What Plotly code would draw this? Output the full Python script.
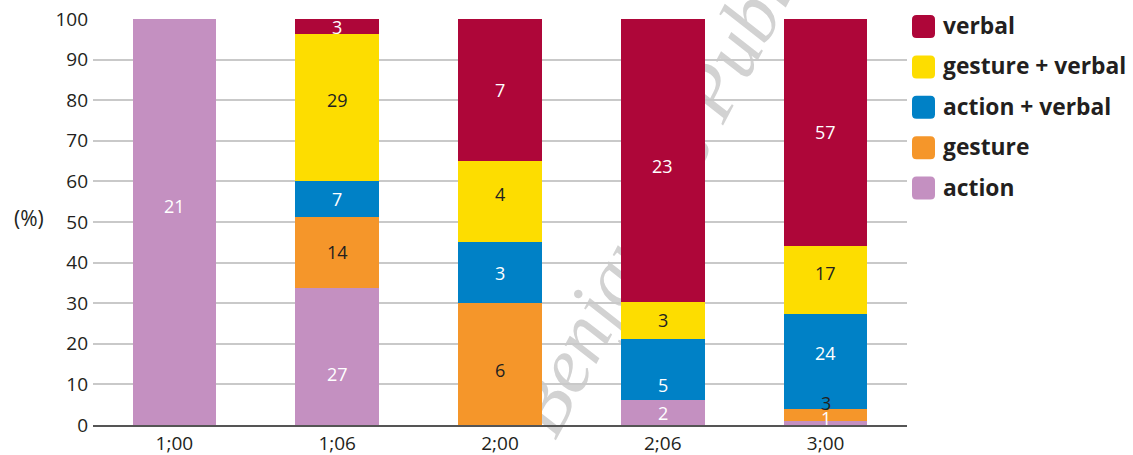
import plotly.graph_objects as go

# Age groups and number of utterances per communicative type
ages = ["1;00", "1;06", "2;00", "2;06", "3;00"]
action = [21, 27, 0, 2, 1]
gesture = [0, 14, 6, 0, 3]
action_verbal = [0, 7, 3, 5, 24]
gesture_verbal = [0, 29, 4, 3, 17]
verbal = [0, 3, 7, 23, 57]

y_ticks = [0, 10, 20, 30, 40, 50, 60, 70, 80, 90, 100]

# stacking order (bottom to top)
series = [
    ("action", action, "#c490c1", "white"),
    ("gesture", gesture, "#f5962a", "#231f20"),
    ("action + verbal", action_verbal, "#0081c6", "white"),
    ("gesture + verbal", gesture_verbal, "#fddd00", "#231f20"),
    ("verbal", verbal, "#ae0639", "white"),
]

# small vertical nudges (px) for a few segment labels
label_nudge = {
    ("action", "1;00"): 16, ("action", "1;06"): -18,
    ("gesture + verbal", "1;06"): 8,
    ("gesture", "2;00"): -6, ("gesture + verbal", "2;00"): 8,
    ("verbal", "2;06"): -6, ("action + verbal", "2;06"): -15,
    ("gesture + verbal", "3;00"): 7, ("action + verbal", "3;00"): 8,
    ("gesture", "3;00"): 12, ("action", "3;00"): 5,
}

FONT = "Open Sans"
DARK = "#231f20"

# plot-area geometry (px)
W_FIG, H_FIG = 1133, 455
L, R, T, B = 93, 907, 19, 425
PW, PH = R - L, B - T


def px(xp):
    return (xp - L) / PW


def py(yp):
    return (B - yp) / PH


fig = go.Figure()
for name, vals, color, _ in series:
    fig.add_bar(x=ages, y=vals, name=name, marker_color=color,
                marker_line_width=0, showlegend=False)

annotations = []
shapes = []

# value labels inside each segment
for i, age in enumerate(ages):
    total = sum(s[1][i] for s in series)
    cum = 0
    for name, vals, color, tcolor in series:
        v = vals[i]
        if v > 0:
            center = (cum + v / 2) / total * 100
            annotations.append(dict(
                x=age, y=center, xref="x", yref="y", text=str(v),
                showarrow=False, yshift=label_nudge.get((name, age), 0),
                font=dict(family=FONT, size=18, color=tcolor)))
        cum += v

# y-axis caption
annotations.append(dict(x=px(29), y=py(218), xref="paper", yref="paper",
                        xanchor="center", yanchor="middle",
                        text="(%)", showarrow=False,
                        font=dict(family=FONT, size=21, color=DARK)))

# legend: rounded swatches + bold labels, top entry first
def rounded_square(cx, cy, size, r):
    x0, x1 = cx - size / 2, cx + size / 2
    y0, y1 = cy - size / 2, cy + size / 2
    pts = [
        f"M {px(x0 + r)} {py(y0)}",
        f"L {px(x1 - r)} {py(y0)}",
        f"Q {px(x1)} {py(y0)} {px(x1)} {py(y0 + r)}",
        f"L {px(x1)} {py(y1 - r)}",
        f"Q {px(x1)} {py(y1)} {px(x1 - r)} {py(y1)}",
        f"L {px(x0 + r)} {py(y1)}",
        f"Q {px(x0)} {py(y1)} {px(x0)} {py(y1 - r)}",
        f"L {px(x0)} {py(y0 + r)}",
        f"Q {px(x0)} {py(y0)} {px(x0 + r)} {py(y0)}",
        "Z",
    ]
    return " ".join(pts)


for k, (name, vals, color, _) in enumerate(reversed(series)):
    cy = 26.5 + k * 40.4
    shapes.append(dict(type="path", xref="paper", yref="paper",
                       path=rounded_square(923.5, cy, 23, 4.5),
                       fillcolor=color, line_width=0, layer="above"))
    annotations.append(dict(x=px(941), y=py(cy - 1), xref="paper", yref="paper",
                            xanchor="left", yanchor="middle",
                            text=f"<b>{name}</b>", showarrow=False,
                            font=dict(family=FONT, size=22.8, color=DARK)))

# publisher watermark, behind the bars
shapes.append(dict(
    type="rect", xref="paper", yref="paper",
    x0=px(684), x1=px(694), y0=py(118), y1=py(108),
    line_width=0, fillcolor="rgba(0,0,0,0)", layer="below",
    label=dict(text="Benjamins Publishing", textangle=-62,
               textposition="middle center",
               font=dict(family="Liberation Serif", size=80,
                         color="#d2d2d2", style="italic"))))

fig.update_layout(
    width=W_FIG, height=H_FIG,
    margin=dict(l=L, r=W_FIG - R, t=T, b=H_FIG - B, pad=0, autoexpand=False),
    paper_bgcolor="white", plot_bgcolor="rgba(0,0,0,0)",
    barmode="stack", barnorm="percent", bargap=0.487,
    showlegend=False,
    annotations=annotations, shapes=shapes,
    font=dict(family=FONT, color=DARK),
)
fig.update_xaxes(showline=True, linecolor="#555555", linewidth=1.5,
                 ticks="", ticklen=0, showgrid=False, ticklabelstandoff=0,
                 automargin=False,
                 tickfont=dict(family=FONT, size=19, color=DARK),
                 range=[-0.5, 4.5])
fig.update_yaxes(range=[0, 100], tickvals=y_ticks, showgrid=True,
                 gridcolor="#c9c9c9", gridwidth=1.5, zeroline=False,
                 showline=False, ticks="", ticklen=0, ticklabelstandoff=4,
                 automargin=False,
                 tickfont=dict(family=FONT, size=19, color=DARK))

fig.write_html("out.html")
